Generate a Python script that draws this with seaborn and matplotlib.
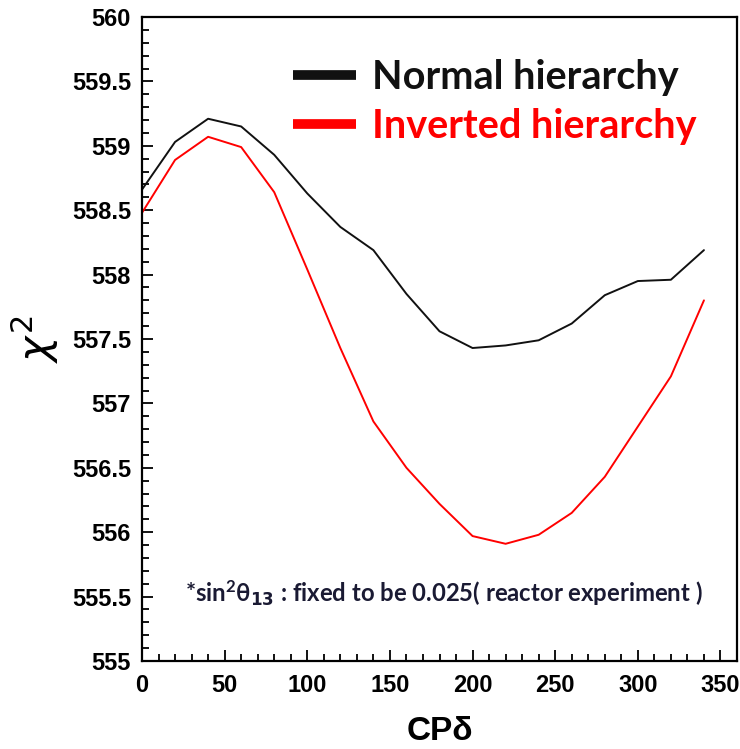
import numpy as np
import pandas as pd
import matplotlib
matplotlib.use("Agg")
import matplotlib.pyplot as plt
from matplotlib.ticker import MultipleLocator
from matplotlib.lines import Line2D
import seaborn as sns

# CP phase scan (degrees) and chi-square for each mass hierarchy
cp_delta = [0, 20, 40, 60, 80, 100, 120, 140, 160, 180,
            200, 220, 240, 260, 280, 300, 320, 340]
chi2_normal = [558.66, 559.03, 559.21, 559.15, 558.93, 558.63, 558.37, 558.19, 557.85, 557.56,
               557.43, 557.45, 557.49, 557.62, 557.84, 557.95, 557.96, 558.19]
chi2_inverted = [558.48, 558.89, 559.07, 558.99, 558.64, 558.04, 557.43, 556.86, 556.50, 556.22,
                 555.97, 555.91, 555.98, 556.15, 556.43, 556.82, 557.21, 557.80]
series_names = ["Normal hierarchy", "Inverted hierarchy"]
series_colors = ["#111111", "#ff0000"]
note_text = r"*sin$\mathregular{^2}$θ$\mathbf{_{13}}$ : fixed to be 0.025( reactor experiment )"

df = pd.concat([
    pd.DataFrame({"delta": cp_delta, "chi2": chi2_normal, "hierarchy": series_names[0]}),
    pd.DataFrame({"delta": cp_delta, "chi2": chi2_inverted, "hierarchy": series_names[1]}),
])

sns.set_theme(style="white")
plt.rcParams["font.family"] = ["Liberation Sans", "DejaVu Sans"]

fig = plt.figure(figsize=(7.40, 7.49), dpi=100)
ax = fig.add_axes([142 / 740, 88 / 749, 595 / 740, 644 / 749])

sns.lineplot(data=df, x="delta", y="chi2", hue="hierarchy",
             palette=dict(zip(series_names, series_colors)),
             linewidth=1.4, ax=ax, legend=False)

ax.set_xlim(0, 360)
ax.set_ylim(555, 560)
ax.xaxis.set_major_locator(MultipleLocator(50))
ax.xaxis.set_minor_locator(MultipleLocator(10))
ax.yaxis.set_major_locator(MultipleLocator(0.5))
ax.yaxis.set_minor_locator(MultipleLocator(0.1))
ax.yaxis.set_major_formatter(matplotlib.ticker.FuncFormatter(lambda v, p: f"{v:g}"))

ax.tick_params(which="both", direction="in", left=True, bottom=True,
               right=False, top=False, color="black", width=1.3)
ax.tick_params(which="major", length=8, labelsize=17)
ax.tick_params(axis="y", which="major", pad=8)
ax.tick_params(axis="x", which="major", pad=9)
ax.tick_params(which="minor", length=5)
for lab in ax.get_xticklabels() + ax.get_yticklabels():
    lab.set_fontweight("bold")
    lab.set_color("black")

for sp in ax.spines.values():
    sp.set_color("black")
    sp.set_linewidth(1.6)

ax.set_xlabel("CPδ", fontsize=24, fontweight="bold", color="black", labelpad=14)
ax.set_ylabel(r"$\chi^2$", fontsize=31, color="black", labelpad=8)

# legend with thick handles and coloured labels
handles = [Line2D([0], [0], color=c, lw=7, solid_capstyle="butt") for c in series_colors]
leg = ax.legend(handles, series_names, loc="upper left",
                bbox_to_anchor=(293 / 740, 1 - 59 / 749), bbox_transform=fig.transFigure,
                frameon=False, borderpad=0, borderaxespad=0,
                handlelength=1.6, handletextpad=0.4, labelspacing=0.3,
                prop={"family": ["Lato", "DejaVu Sans"], "weight": "bold", "size": 28.5})
for txt, c in zip(leg.get_texts(), series_colors):
    txt.set_color(c)

ax.text(0.072, 0.106, note_text, transform=ax.transAxes, ha="left", va="center",
        fontsize=17.2, color="#1a1a33",
        family=["Lato", "DejaVu Sans"], fontweight="bold")

fig.savefig("out.png", dpi=100)
